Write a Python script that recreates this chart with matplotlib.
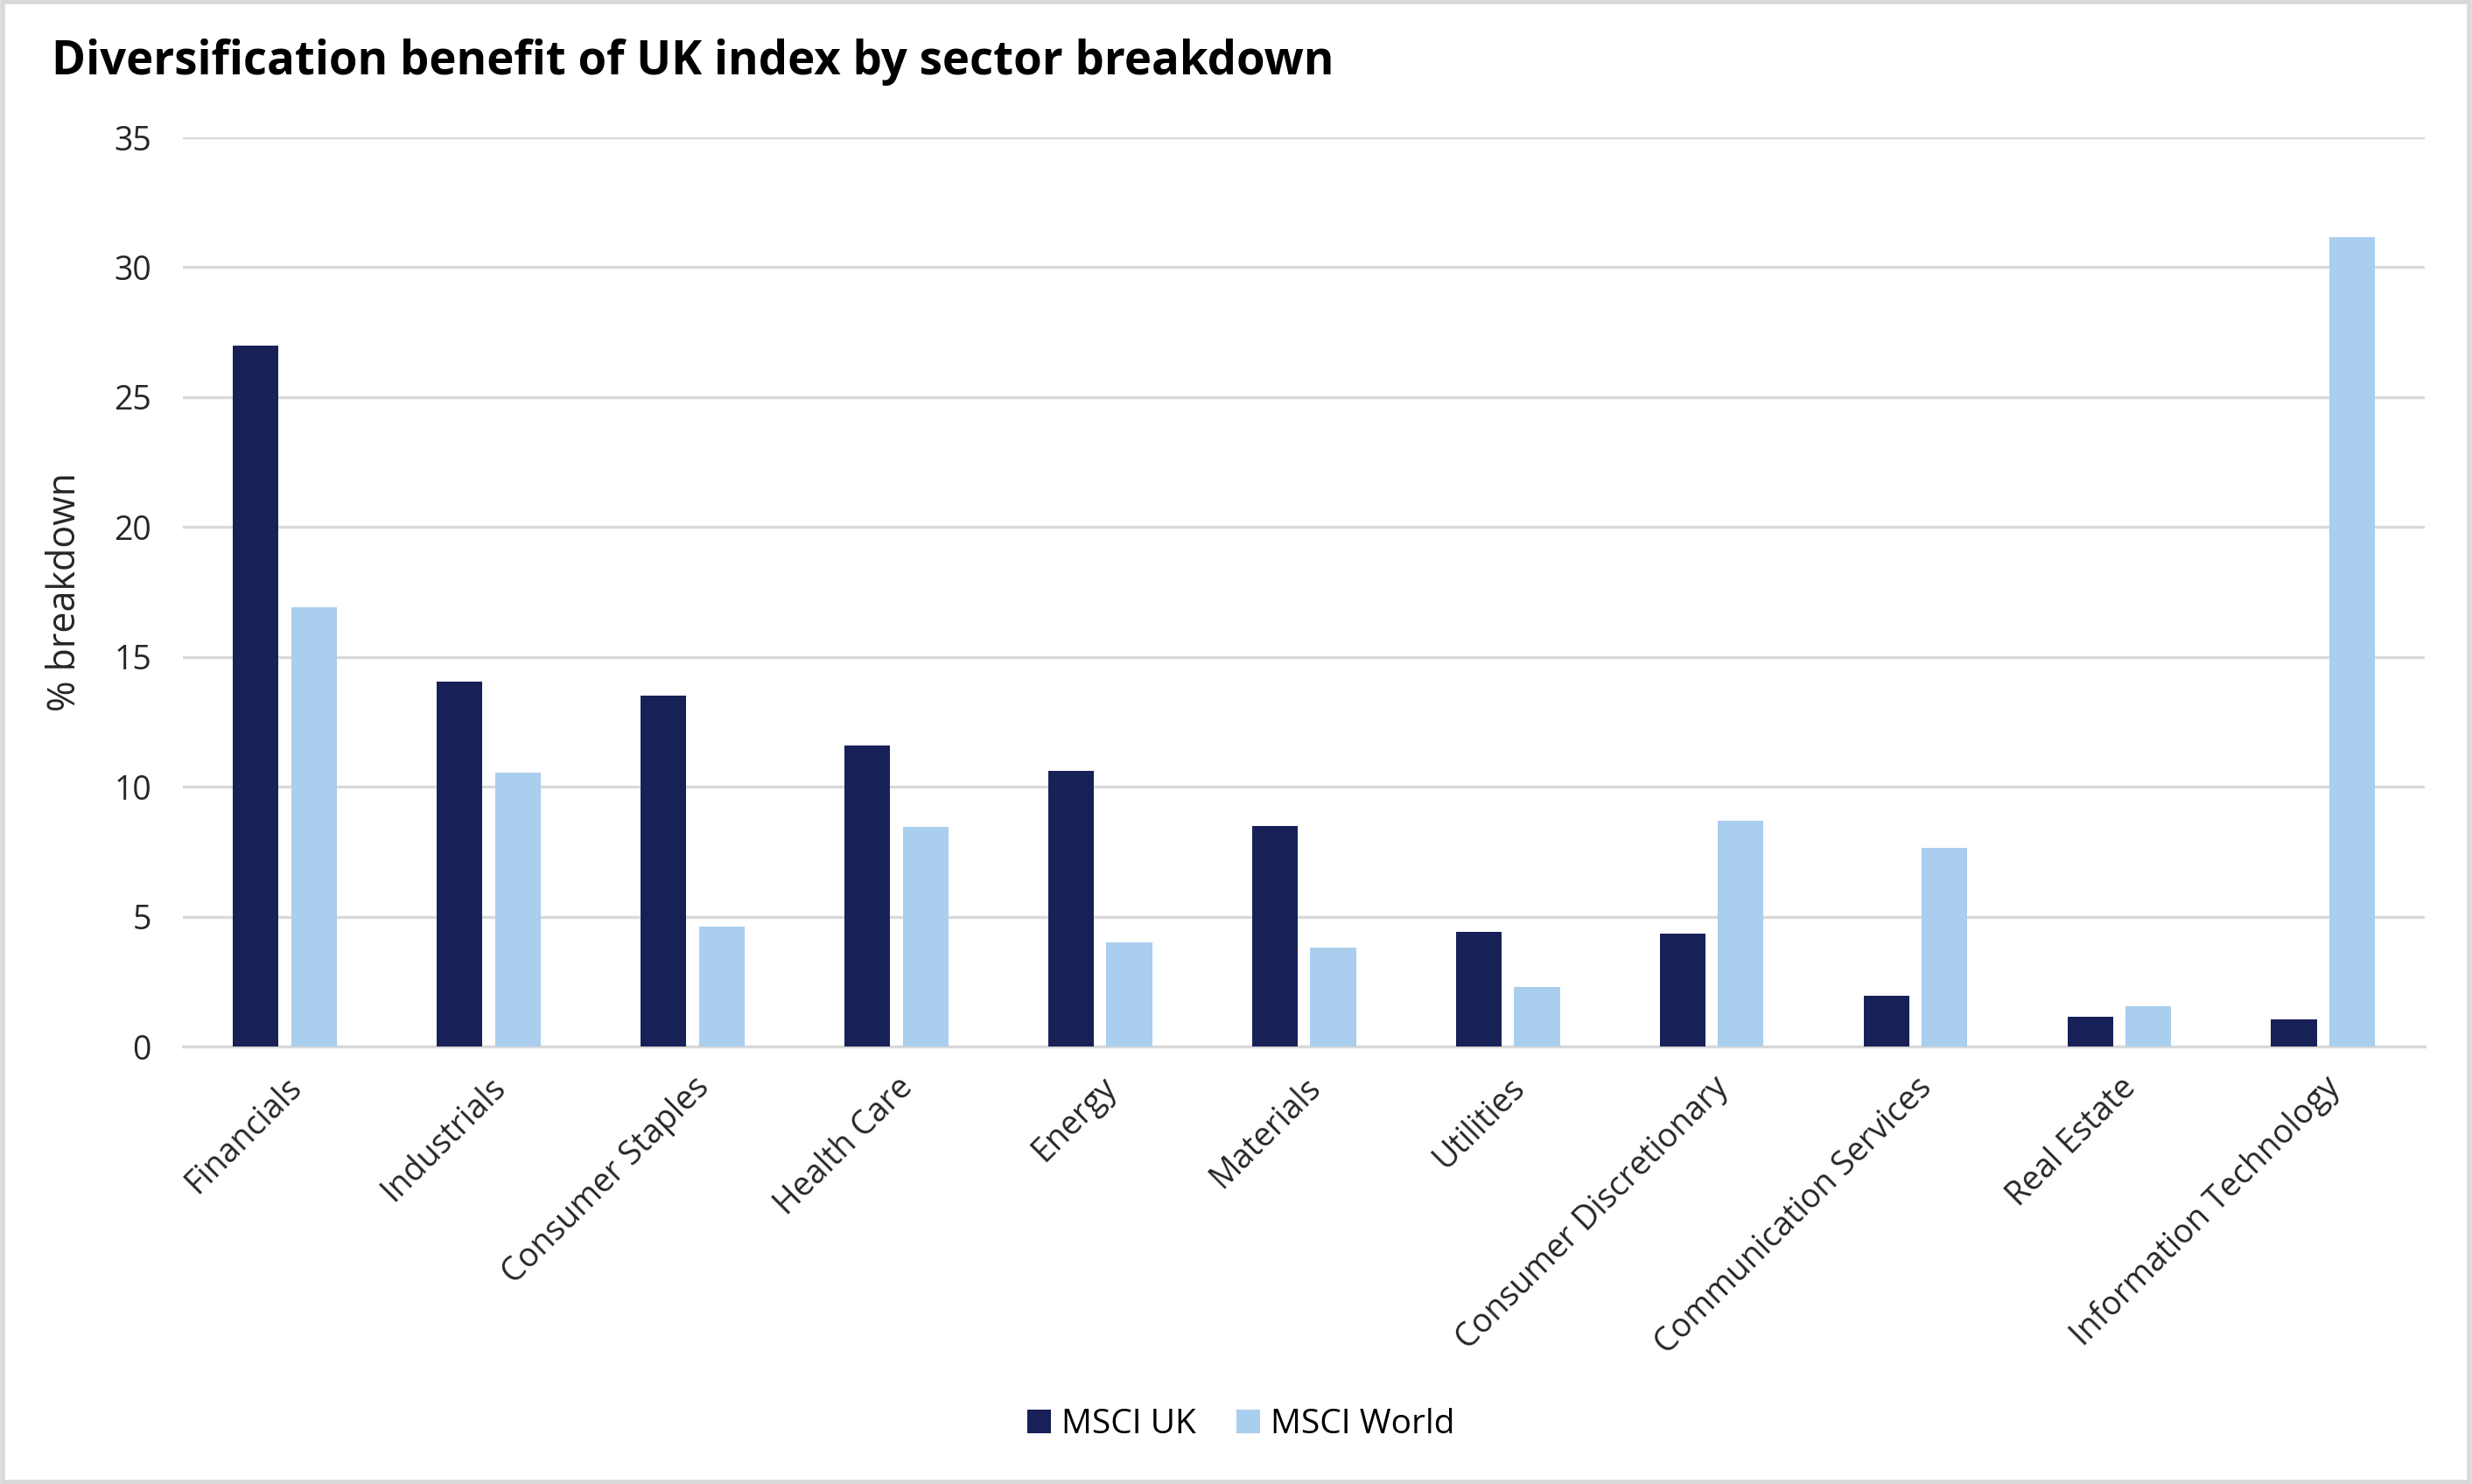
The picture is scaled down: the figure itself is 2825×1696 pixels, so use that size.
import matplotlib.pyplot as plt
import numpy as np
from matplotlib.patches import Rectangle

sectors = ['Financials', 'Industrials', 'Consumer Staples', 'Health Care', 'Energy',
           'Materials', 'Utilities', 'Consumer Discretionary', 'Communication Services',
           'Real Estate', 'Information Technology']
msci_uk = [27.0, 14.05, 13.5, 11.6, 10.6, 8.5, 4.4, 4.35, 1.95, 1.15, 1.05]
msci_world = [16.9, 10.55, 4.6, 8.45, 4.0, 3.8, 2.3, 8.7, 7.65, 1.55, 31.15]

plt.rcParams['font.family'] = ['Open Sans', 'DejaVu Sans']


def main():
    fig = plt.figure(figsize=(14.125, 8.48), dpi=200)
    ax = fig.add_axes([0.074, 0.2948, 0.907, 0.6126])

    x = np.arange(len(sectors))
    w = 0.224
    ax.bar(x - 0.143, msci_uk, width=w, color='#182157', label='MSCI UK', zorder=3)
    ax.bar(x + 0.143, msci_world, width=w, color='#A9CEEE', label='MSCI World', zorder=3)

    ax.set_xlim(-0.5, len(sectors) - 0.5)
    ax.set_ylim(0, 35)
    ax.set_yticks(range(0, 36, 5))
    ax.yaxis.grid(True, color='#D9D9D9', linewidth=1.2, zorder=0)
    for s in ['top', 'right', 'left']:
        ax.spines[s].set_visible(False)
    ax.spines['bottom'].set_color('#D9D9D9')
    ax.spines['bottom'].set_linewidth(1.2)
    ax.tick_params(axis='both', length=0, labelsize=13.5, colors='#262626')
    ax.tick_params(axis='y', pad=13)
    ax.set_xticks(x)
    ax.set_xticklabels(sectors, rotation=45, ha='right', rotation_mode='anchor')
    ax.tick_params(axis='x', pad=10)
    ax.set_ylabel('% breakdown', fontsize=15.5, color='#262626', labelpad=12)

    fig.text(0.021, 0.958, 'Diversification benefit of UK index by sector breakdown',
             fontsize=19, fontweight='bold', va='center', ha='left', color='black')

    fig.legend(loc='center', bbox_to_anchor=(0.502, 0.04), ncol=2, frameon=False,
               fontsize=14, handlelength=0.7, handleheight=0.7, handletextpad=0.3,
               columnspacing=1.2)

    fig.patches.append(Rectangle((0.001, 0.001), 0.998, 0.998, transform=fig.transFigure,
                                 fill=False, edgecolor='#D9D9D9', linewidth=2))

    fig.savefig('out.png', dpi=200)


if __name__ == '__main__':
    main()
